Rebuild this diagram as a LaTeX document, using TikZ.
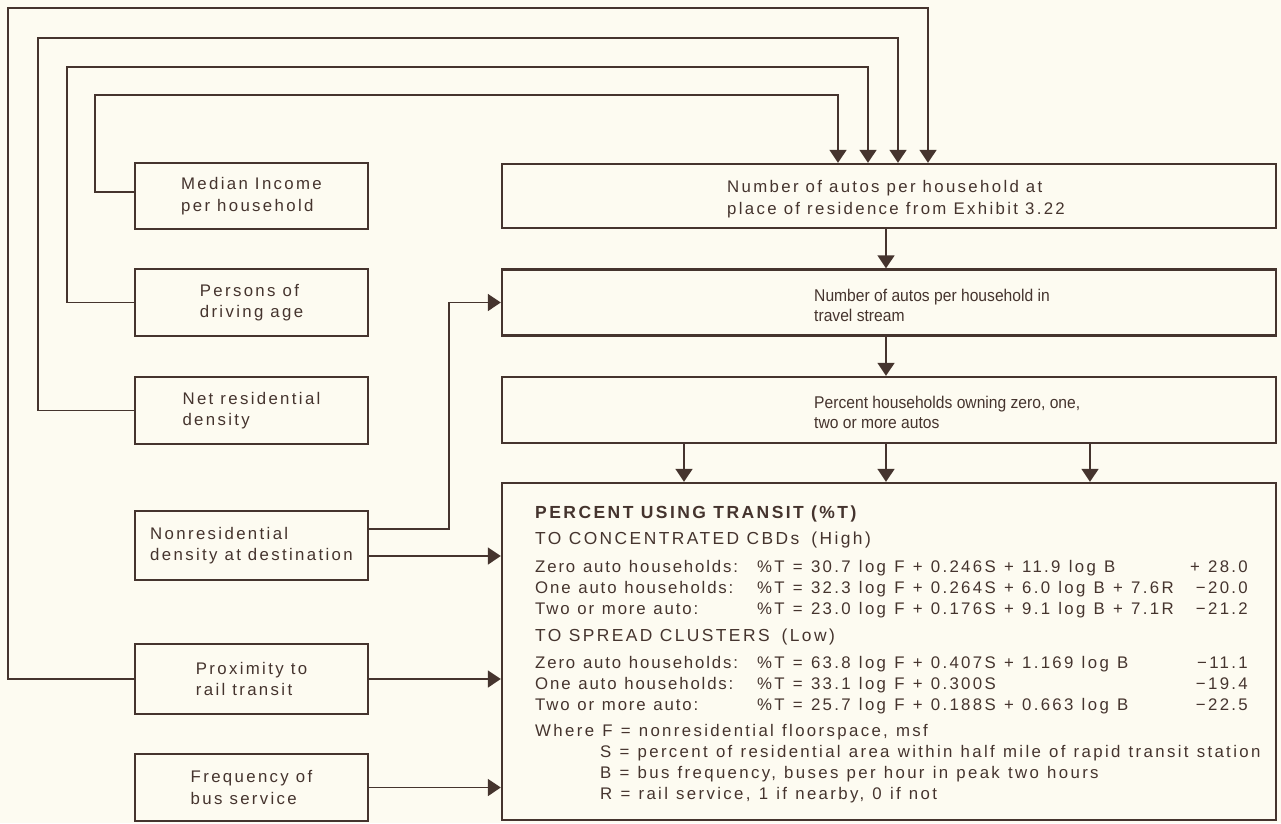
\documentclass[tikz,border=0pt]{standalone}
\usepackage{fontspec}
\setmainfont{Liberation Sans}[LetterSpace=14]
\newfontfamily\plainfont{Liberation Sans}[FakeStretch=0.92]
\newfontfamily\labelfont{Liberation Sans}[LetterSpace=11]
\usetikzlibrary{arrows.meta,calc}
\definecolor{bg}{HTML}{FDFBF1}
\definecolor{ink}{HTML}{45342E}
\newcommand\myfs{\fontsize{16.8}{21.5}\selectfont}
\newcommand\bigfs{\fontsize{16.8}{21.5}\selectfont\spaceskip=\dimexpr\fontdimen2\font+1.2pt\relax}
\newcommand\capfs{\fontsize{17.4}{21.5}\selectfont}
\newcommand\hdfs{\fontsize{17.5}{21.5}\selectfont\bfseries}
\begin{document}
\begin{tikzpicture}[x=1pt,y=-1pt,
  box/.style={draw=ink, line width=2.4pt, inner sep=0pt},
  lbox/.style={box, minimum width=233pt, minimum height=67pt, align=left, font=\myfs, text=ink},
  rbox/.style={box, minimum width=774pt},
  conn/.style={draw=ink, line width=1.8pt},
  arr/.style={conn, -{Triangle[width=17pt,length=13pt]}},
  txt/.style={inner sep=0pt, text=ink, font=\myfs},
  btxt/.style={inner sep=0pt, text=ink, font=\bigfs},
  ltxt/.style={inner sep=0pt, text=ink, font=\labelfont\bigfs},
  ptxt/.style={inner sep=0pt, text=ink, font=\fontsize{17}{21.5}\plainfont, align=left}]
\fill[bg] (0,0) rectangle (1281,823);
\useasboundingbox (0,0) rectangle (1281,823);

% left boxes
\node[lbox, minimum height=66pt] (med)  at (251.5,196)   {Median Income\\per household};
\node[lbox] (per)  at (251.5,302.5) {Persons of\\driving age};
\node[lbox] (net)  at (251.5,410.5) {Net residential\\density};
\node[lbox, minimum height=69pt] (non)  at (251.5,545.5) {Nonresidential\\density at destination};
\node[lbox, minimum height=70pt] (prox) at (251.5,679)   {Proximity to\\rail transit};
\node[lbox] (freq) at (251.5,787.5) {Frequency of\\bus service};

% right boxes
\node[rbox, minimum height=64pt]  (b1) at (889,196)   {};
\node[rbox, minimum height=66pt]  (b2) at (889,302.5) {};
\node[rbox, minimum height=66pt]  (b3) at (889,410)   {};
\node[rbox, minimum height=337pt] (b4) at (889,651.5) {};

\node[txt, anchor=base west] (b1a) at (727,192) {Number of autos per household at};
\node[txt, anchor=base west] (b1b) at (727,214) {place of residence from Exhibit 3.22};
\node[ptxt, anchor=base west] (b2a) at (814,301) {Number of autos per household in};
\node[ptxt, anchor=base west] (b2b) at (814,321) {travel stream};
\node[ptxt, anchor=base west] (b3a) at (814,408) {Percent households owning zero, one,};
\node[ptxt, anchor=base west] (b3b) at (814,428) {two or more autos};

% contents of the big box
\node[btxt, font=\hdfs, anchor=base west] (h0) at (535,518) {PERCENT USING TRANSIT (\%T)};
\node[btxt, font=\capfs, anchor=base west] (h1) at (535,544) {TO CONCENTRATED CBDs\hspace{12pt}(High)};
\node[ltxt, anchor=base west] (l1) at (535,572) {Zero auto households:};
\node[ltxt, anchor=base west] (l2) at (535,593) {One auto households:};
\node[ltxt, anchor=base west] (l3) at (535,614) {Two or more auto:};
\node[btxt, anchor=base west] (e1) at (757,572) {\%T = 30.7 log F + 0.246S + 11.9 log B};
\node[btxt, anchor=base west] (e2) at (757,593) {\%T = 32.3 log F + 0.264S + 6.0 log B + 7.6R};
\node[btxt, anchor=base west] (e3) at (757,614) {\%T = 23.0 log F + 0.176S + 9.1 log B + 7.1R};
\node[btxt, anchor=base east] (k1) at (1248,572) {+ 28.0};
\node[btxt, anchor=base east] (k2) at (1248,593) {−20.0};
\node[btxt, anchor=base east] (k3) at (1248,614) {−21.2};
\node[btxt, font=\capfs, anchor=base west] (h2) at (535,641) {TO SPREAD CLUSTERS\hspace{12pt}(Low)};
\node[ltxt, anchor=base west] (m1) at (535,668) {Zero auto households:};
\node[ltxt, anchor=base west] (m2) at (535,689) {One auto households:};
\node[ltxt, anchor=base west] (m3) at (535,710) {Two or more auto:};
\node[btxt, anchor=base west] (f1) at (757,668) {\%T = 63.8 log F + 0.407S + 1.169 log B};
\node[btxt, anchor=base west] (f2) at (757,689) {\%T = 33.1 log F + 0.300S};
\node[btxt, anchor=base west] (f3) at (757,710) {\%T = 25.7 log F + 0.188S + 0.663 log B};
\node[btxt, anchor=base east] (q1) at (1248,668) {−11.1};
\node[btxt, anchor=base east] (q2) at (1248,689) {−19.4};
\node[btxt, anchor=base east] (q3) at (1248,710) {−22.5};
\node[btxt, anchor=base west] (w0) at (535,736) {Where F = nonresidential floorspace, msf};
\node[btxt, anchor=base west] (w1) at (600,757) {S = percent of residential area within half mile of rapid transit station};
\node[btxt, anchor=base west] (w2) at (600,778) {B = bus frequency, buses per hour in peak two hours};
\node[btxt, anchor=base west] (w3) at (600,799) {R = rail service, 1 if nearby, 0 if not};

% feedback connectors to the top box
\draw[arr] ([yshift=4pt]med.west) -| (95,95) -| (b1.north -| 838,0);
\draw[arr] (per.west)  -| (67,67) -| (b1.north -| 868,0);
\draw[arr] (net.west)  -| (38,38) -| (b1.north -| 898,0);
\draw[arr] (prox.west) -| (8,8)   -| (b1.north -| 928,0);

% chain of right boxes
\draw[arr] (b1.south -| 886,0) -- (b2.north -| 886,0);
\draw[arr] (b2.south -| 886,0) -- (b3.north -| 886,0);
\draw[arr] (b3.south -| 684,0) -- (b4.north -| 684,0);
\draw[arr] (b3.south -| 886,0) -- (b4.north -| 886,0);
\draw[arr] (b3.south -| 1090,0) -- (b4.north -| 1090,0);

% inputs from left boxes
\draw[arr] ([yshift=16.5pt]non.east) -| ($(b2.west)+(-52,0)$) -- (b2.west);
\draw[arr] ([yshift=-10.5pt]non.east) -- ([yshift=-10.5pt]non.east -| b4.west);
\draw[arr] (prox.east) -- (prox.east -| b4.west);
\draw[arr] (freq.east) -- (freq.east -| b4.west);
\end{tikzpicture}
\end{document}
